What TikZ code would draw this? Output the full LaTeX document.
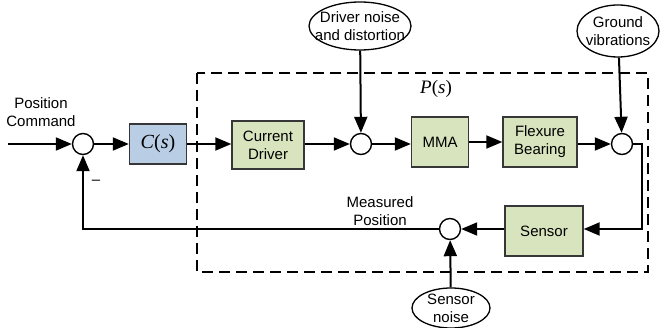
\documentclass[tikz,border=0pt]{standalone}
\usepackage{fontspec}
\setmainfont{Liberation Sans}
\newfontfamily\tfserif{Liberation Serif}
\usetikzlibrary{arrows.meta,shapes.geometric}
\definecolor{boxgreen}{RGB}{215,228,189}
\definecolor{boxblue}{RGB}{185,205,229}
\definecolor{boxedge}{RGB}{55,55,55}
\begin{document}
\begin{tikzpicture}[x=1pt,y=-1pt,
  lbl/.style={font=\fontsize{15}{18}\selectfont,align=center,inner sep=0pt},
  blk/.style={draw=boxedge,line width=1.4pt,fill=boxgreen,minimum height=48pt,align=center,font=\fontsize{15}{18}\selectfont,inner sep=2pt},
  sumc/.style={circle,draw,line width=1.4pt,fill=white,minimum size=21pt,inner sep=0pt},
  noise/.style={ellipse,draw,line width=1.3pt,fill=white,align=center,inner sep=-12pt,font=\fontsize{15}{18}\selectfont},
  conn/.style={line width=2pt,-{Triangle[length=16pt,width=13pt]}},
  plantbox/.style={line width=1.4pt,dash pattern=on 11pt off 6pt}]
\useasboundingbox (0,0) rectangle (660,328);
\draw[plantbox] (197,73) rectangle (648,272);
\node[lbl] (ps) at (436,89) {\fontsize{19}{21}\tfserif\selectfont\textit{P}(\textit{s})};

\coordinate (in) at (8,144);
\node[lbl] (pc) at (41,112) {Position\\Command};
\node[sumc] (s1) at (83,144) {};
\node[blk,fill=boxblue,minimum width=57pt,minimum height=40pt,font=\fontsize{20}{22}\tfserif\selectfont] (C) at (158,144) {\textit{C}(\textit{s})};
\node[blk,minimum width=72pt] (CD) at (268,145) {Current\\Driver};
\node[sumc] (s2) at (361,144) {};
\node[blk,minimum width=57pt,minimum height=50pt] (MMA) at (440,142) {MMA};
\node[blk,minimum width=74pt,minimum height=50pt] (FB) at (540,142) {Flexure\\Bearing};
\node[sumc] (s3) at (622,144) {};
\node[blk,minimum width=78pt,minimum height=50pt] (Sen) at (544,231) {Sensor};
\node[sumc] (s4) at (450,229) {};
\node[lbl] (mp) at (380,211) {Measured\\Position};
\node[lbl] (minus) at (96,182) {–};

\node[noise,minimum width=102pt,minimum height=48pt] (dn) at (360,26) {Driver noise\\and distortion};
\node[noise,minimum width=82pt,minimum height=52pt] (gv) at (618,31) {Ground\\vibrations};
\node[noise,minimum width=78pt,minimum height=40pt] (sn) at (451,308) {Sensor\\noise};

\coordinate (cR) at (642,229);
\coordinate (cL) at (83,229);

\draw[conn] (in) -- (s1);
\draw[conn] (s1) -- (C);
\draw[conn] (C) -- (C -| CD.west);
\draw[conn] (CD.east |- s2) -- (s2);
\draw[conn] (s2) -- (s2 -| MMA.west);
\draw[conn] (MMA.east |- 0,142) -- (FB.west |- 0,142);
\draw[conn] (FB.east |- s3) -- (s3);
\draw[conn] (s3.east) -| (cR) -- (cR -| Sen.east);
\draw[conn] (Sen.west |- s4) -- (s4);
\draw[conn] (s4.west) -- (cL) -- (s1.south);
\draw[conn] (dn) -- (s2);
\draw[conn] (gv) -- (s3);
\draw[conn] (sn) -- (s4);
\end{tikzpicture}
\end{document}
